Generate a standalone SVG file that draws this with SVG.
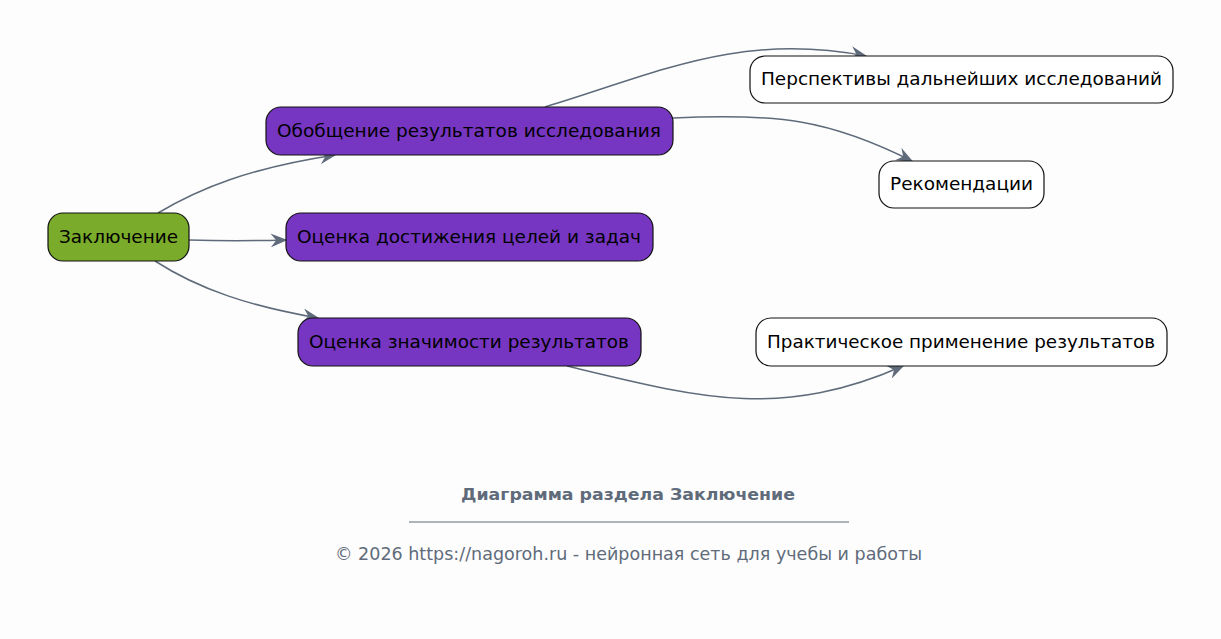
<svg xmlns="http://www.w3.org/2000/svg" width="1221" height="639" viewBox="0 0 1221 639">
<defs>
<marker id="arr" viewBox="0 0 12 10" refX="11" refY="5" markerWidth="17" markerHeight="14" markerUnits="userSpaceOnUse" orient="auto">
<path d="M0,0 L12,5 L0,10 L4,5 z" fill="#5f6b7a"/>
</marker>
<style>
.n rect{stroke:#111;stroke-width:1.2}
.g rect{fill:#7aab2b}
.p rect{fill:#7636c2}
.w rect{fill:#ffffff}
.n text{font-family:"DejaVu Sans",sans-serif;font-size:18px;fill:#000;text-anchor:middle;dominant-baseline:central}
.e path{fill:none;stroke:#5f6b7a;stroke-width:1.5;marker-end:url(#arr)}
.f{font-family:"DejaVu Sans",sans-serif;fill:#5f6b7a;text-anchor:middle}
</style>
</defs>
<rect width="1221" height="639" fill="#fdfdfd"/>
<g id="edges" class="e">
<path d="M158,213 C200,188 250,168 335,155"/>
<path d="M189,240 C220,241 250,241 286,240"/>
<path d="M155,261 C200,290 250,306 318,318"/>
<path d="M545,107 C660,72 740,32 866,56"/>
<path d="M673,118 C780,113 830,120 912,161"/>
<path d="M567,366 C700,398 780,420 903,366"/>
</g>
<g id="n1" class="n g"><rect x="48" y="213" width="141" height="48" rx="15"/><text x="118.5" y="236.5" textLength="119" lengthAdjust="spacingAndGlyphs">Заключение</text></g>
<g id="n2" class="n p"><rect x="266" y="107" width="407" height="48" rx="15"/><text x="469" y="130.5" textLength="384" lengthAdjust="spacingAndGlyphs">Обобщение результатов исследования</text></g>
<g id="n3" class="n p"><rect x="286" y="213" width="367" height="48" rx="15"/><text x="469" y="236.5" textLength="344" lengthAdjust="spacingAndGlyphs">Оценка достижения целей и задач</text></g>
<g id="n4" class="n p"><rect x="298" y="318" width="343" height="48" rx="15"/><text x="469" y="341.5" textLength="320" lengthAdjust="spacingAndGlyphs">Оценка значимости результатов</text></g>
<g id="n5" class="n w"><rect x="750" y="56" width="423" height="47" rx="15"/><text x="961.5" y="78.5" textLength="401" lengthAdjust="spacingAndGlyphs">Перспективы дальнейших исследований</text></g>
<g id="n6" class="n w"><rect x="879" y="161" width="165" height="47" rx="15"/><text x="961.5" y="183.5" textLength="143" lengthAdjust="spacingAndGlyphs">Рекомендации</text></g>
<g id="n7" class="n w"><rect x="756" y="318" width="411" height="48" rx="15"/><text x="961" y="341.5" textLength="388" lengthAdjust="spacingAndGlyphs">Практическое применение результатов</text></g>
<g id="footer">
<text class="f" x="628" y="500" font-size="16" font-weight="bold" textLength="334" lengthAdjust="spacingAndGlyphs">Диаграмма раздела Заключение</text>
<line x1="409" y1="522" x2="849" y2="522" stroke="#5f6b7a" stroke-width="1"/>
<text class="f" x="628.5" y="560" font-size="17" textLength="587" lengthAdjust="spacingAndGlyphs">© 2026 https://nagoroh.ru - нейронная сеть для учебы и работы</text>
</g>
</svg>
